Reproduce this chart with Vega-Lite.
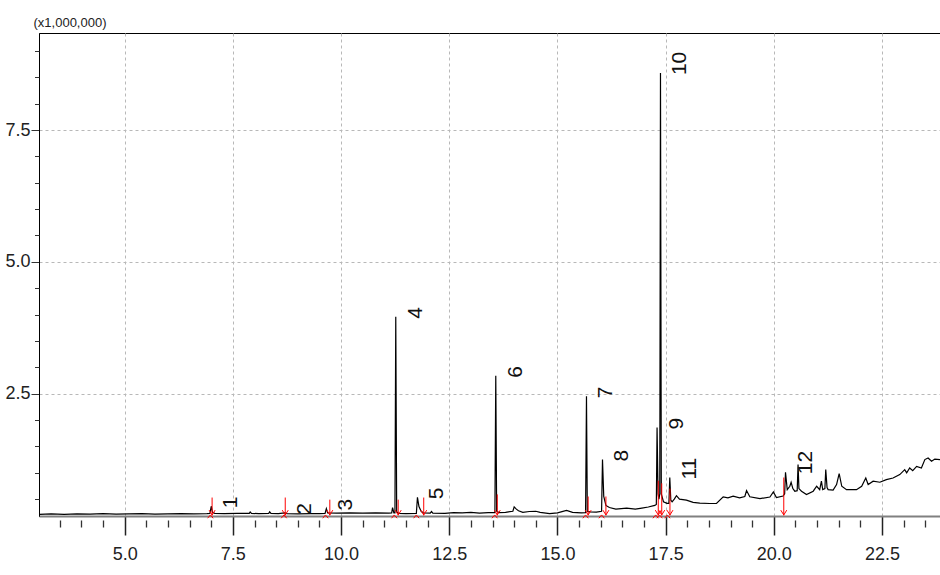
{
  "$schema": "https://vega.github.io/schema/vega-lite/v6.json",
  "width": 901,
  "height": 483,
  "autosize": "none",
  "padding": {"left": 39, "top": 33, "right": 0, "bottom": 59},
  "background": "white",
  "config": {
    "view": {"stroke": "black", "strokeWidth": 1},
    "font": "Liberation Sans, Arial"
  },
  "resolve": {"axis": {"x": "independent", "y": "independent"}},
  "datasets": {
    "trace": [
      {"t":3.03,"v":0.21},{"t":3.3,"v":0.22},{"t":3.6,"v":0.21},{"t":3.9,"v":0.22},{"t":4.2,"v":0.215},{"t":4.5,"v":0.225},{"t":4.8,"v":0.215},{"t":5.1,"v":0.22},{"t":5.4,"v":0.225},{"t":5.7,"v":0.215},{"t":6.0,"v":0.22},{"t":6.3,"v":0.225},{"t":6.6,"v":0.22},{"t":6.9,"v":0.225},{"t":6.97,"v":0.23},{"t":7.0,"v":0.365},{"t":7.03,"v":0.25},{"t":7.08,"v":0.23},{"t":7.3,"v":0.225},{"t":7.6,"v":0.23},{"t":7.88,"v":0.23},{"t":7.9,"v":0.255},{"t":7.93,"v":0.23},{"t":8.1,"v":0.225},{"t":8.33,"v":0.23},{"t":8.35,"v":0.26},{"t":8.38,"v":0.23},{"t":8.55,"v":0.225},{"t":8.7,"v":0.24},{"t":8.75,"v":0.225},{"t":9.0,"v":0.22},{"t":9.3,"v":0.225},{"t":9.5,"v":0.225},{"t":9.63,"v":0.23},{"t":9.66,"v":0.32},{"t":9.69,"v":0.24},{"t":9.9,"v":0.235},{"t":10.2,"v":0.24},{"t":10.5,"v":0.235},{"t":10.8,"v":0.24},{"t":11.1,"v":0.235},{"t":11.17,"v":0.24},{"t":11.19,"v":0.34},{"t":11.22,"v":0.24},{"t":11.245,"v":0.24},{"t":11.264,"v":3.96},{"t":11.285,"v":0.26},{"t":11.33,"v":0.23},{"t":11.5,"v":0.225},{"t":11.74,"v":0.23},{"t":11.765,"v":0.536},{"t":11.8,"v":0.36},{"t":11.85,"v":0.27},{"t":11.9,"v":0.24},{"t":12.06,"v":0.235},{"t":12.09,"v":0.265},{"t":12.12,"v":0.235},{"t":12.4,"v":0.23},{"t":12.6,"v":0.245},{"t":12.8,"v":0.24},{"t":13.0,"v":0.25},{"t":13.2,"v":0.235},{"t":13.4,"v":0.245},{"t":13.555,"v":0.245},{"t":13.575,"v":2.84},{"t":13.595,"v":0.27},{"t":13.65,"v":0.245},{"t":13.8,"v":0.25},{"t":13.97,"v":0.27},{"t":14.0,"v":0.354},{"t":14.05,"v":0.31},{"t":14.1,"v":0.28},{"t":14.2,"v":0.25},{"t":14.35,"v":0.265},{"t":14.5,"v":0.27},{"t":14.6,"v":0.25},{"t":14.82,"v":0.225},{"t":15.0,"v":0.24},{"t":15.21,"v":0.285},{"t":15.35,"v":0.25},{"t":15.55,"v":0.24},{"t":15.65,"v":0.245},{"t":15.671,"v":2.45},{"t":15.69,"v":0.27},{"t":15.75,"v":0.26},{"t":15.9,"v":0.255},{"t":16.02,"v":0.27},{"t":16.041,"v":1.25},{"t":16.07,"v":0.55},{"t":16.12,"v":0.38},{"t":16.2,"v":0.34},{"t":16.35,"v":0.31},{"t":16.6,"v":0.33},{"t":16.8,"v":0.31},{"t":16.95,"v":0.33},{"t":17.1,"v":0.35},{"t":17.25,"v":0.38},{"t":17.285,"v":0.4},{"t":17.302,"v":1.86},{"t":17.325,"v":0.6},{"t":17.345,"v":0.5},{"t":17.365,"v":0.6},{"t":17.381,"v":8.58},{"t":17.4,"v":0.6},{"t":17.45,"v":0.45},{"t":17.53,"v":0.42},{"t":17.575,"v":0.42},{"t":17.596,"v":0.91},{"t":17.62,"v":0.48},{"t":17.65,"v":0.45},{"t":17.7,"v":0.5},{"t":17.75,"v":0.565},{"t":17.82,"v":0.5},{"t":17.98,"v":0.48},{"t":18.135,"v":0.44},{"t":18.29,"v":0.426},{"t":18.52,"v":0.417},{"t":18.675,"v":0.417},{"t":18.83,"v":0.544},{"t":18.94,"v":0.525},{"t":19.06,"v":0.555},{"t":19.21,"v":0.525},{"t":19.33,"v":0.55},{"t":19.37,"v":0.663},{"t":19.445,"v":0.544},{"t":19.68,"v":0.51},{"t":19.91,"v":0.54},{"t":19.99,"v":0.635},{"t":20.06,"v":0.53},{"t":20.215,"v":0.56},{"t":20.25,"v":0.6},{"t":20.27,"v":1.01},{"t":20.31,"v":0.68},{"t":20.37,"v":0.744},{"t":20.4,"v":0.82},{"t":20.44,"v":0.7},{"t":20.485,"v":0.65},{"t":20.54,"v":0.66},{"t":20.56,"v":1.155},{"t":20.58,"v":0.7},{"t":20.64,"v":0.65},{"t":20.755,"v":0.587},{"t":20.91,"v":0.65},{"t":20.99,"v":0.744},{"t":21.06,"v":0.68},{"t":21.1,"v":0.84},{"t":21.13,"v":0.68},{"t":21.18,"v":0.7},{"t":21.2,"v":1.06},{"t":21.23,"v":0.72},{"t":21.255,"v":0.68},{"t":21.37,"v":0.67},{"t":21.45,"v":0.776},{"t":21.51,"v":0.985},{"t":21.57,"v":0.744},{"t":21.68,"v":0.68},{"t":21.91,"v":0.68},{"t":22.03,"v":0.744},{"t":22.125,"v":0.9},{"t":22.18,"v":0.776},{"t":22.295,"v":0.84},{"t":22.45,"v":0.82},{"t":22.6,"v":0.87},{"t":22.755,"v":0.9},{"t":22.91,"v":0.966},{"t":23.025,"v":1.06},{"t":23.07,"v":1.0},{"t":23.14,"v":1.09},{"t":23.21,"v":1.04},{"t":23.3,"v":1.12},{"t":23.41,"v":1.09},{"t":23.49,"v":1.25},{"t":23.565,"v":1.28},{"t":23.645,"v":1.22},{"t":23.72,"v":1.26},{"t":23.84,"v":1.25}
    ],
    "starts": [
      {"t":6.98},{"t":8.68},{"t":9.64},{"t":11.23},{"t":11.74},{"t":13.55},{"t":15.65},{"t":16.02},{"t":17.27},{"t":17.36},{"t":17.54}
    ],
    "ends": [
      {"t":7.02,"top":0.53},{"t":8.71,"top":0.53},{"t":9.74,"top":0.49},{"t":11.32,"top":0.49},{"t":11.91,"top":0.53},{"t":13.61,"top":0.59},{"t":15.71,"top":0.55},{"t":16.12,"top":0.55},{"t":17.33,"top":0.85},{"t":17.41,"top":0.8},{"t":17.6,"top":0.7},{"t":20.23,"top":0.91}
    ],
    "labels": [
      {"n":"1","t":7.0,"v":0.365},{"n":"2","t":8.7,"v":0.24},{"n":"3","t":9.66,"v":0.32},{"n":"4","t":11.264,"v":3.96},{"n":"5","t":11.765,"v":0.536},{"n":"6","t":13.575,"v":2.84},{"n":"7","t":15.671,"v":2.45},{"n":"8","t":16.041,"v":1.25},{"n":"9","t":17.302,"v":1.86},{"n":"10","t":17.381,"v":8.58},{"n":"11","t":17.596,"v":0.91},{"n":"12","t":20.27,"v":1.01}
    ]
  },
  "layer": [
    {
      "data": {"name": "trace"},
      "mark": {"type": "line", "color": "black", "strokeWidth": 1.2, "clip": true},
      "encoding": {
        "x": {
          "field": "t", "type": "quantitative",
          "scale": {"domain": [3.02, 23.84], "nice": false, "zero": false},
          "axis": {
            "orient": "bottom",
            "title": null,
            "tickCount": 200,
            "values": [5,7.5,10,12.5,15,17.5,20,22.5],
            "format": ".1f",
            "labelFontSize": 18,
            "labelColor": "#222222",
            "labelPadding": 10,
            "labelBaseline": "top",
            "labelFlush": false,
            "labelOverlap": false,
            "domainColor": "#808080",
            "domainWidth": 2,
            "ticks": true,
            "tickColor": "#222222",
            "tickWidth": 1.5,
            "tickSize": 19,
            "grid": false
          }
        },
        "y": {
          "field": "v", "type": "quantitative",
          "scale": {"domain": [0.18, 9.34], "nice": false, "zero": false},
          "axis": {
            "orient": "left",
            "title": "(x1,000,000)",
            "titleAngle": 0,
            "titleAlign": "left",
            "titleBaseline": "alphabetic",
            "titleX": -6,
            "titleY": -7,
            "titleFontSize": 13,
            "titleFontWeight": "normal",
            "titleColor": "#222222",
            "tickCount": 200,
            "values": [2.5,5,7.5],
            "format": ".1f",
            "labelFontSize": 18,
            "labelColor": "#222222",
            "labelPadding": 1,
            "labelFlush": false,
            "labelOverlap": false,
            "domainColor": "black",
            "domainWidth": 1,
            "tickColor": "#333333",
            "tickWidth": 1,
            "tickSize": 8,
            "grid": true,
            "gridColor": "#b8b8b8",
            "gridDash": [3, 3],
            "gridWidth": 1
          }
        }
      }
    },
    {
      "data": {"name": "ends"},
      "mark": {"type": "rule", "color": "#ff0000", "strokeWidth": 1},
      "encoding": {
        "x": {
          "field": "t", "type": "quantitative",
          "axis": {
            "orient": "bottom",
            "title": null,
            "tickCount": 200,
            "values": [3.5,4,4.5,5.5,6,6.5,7,8,8.5,9,9.5,10.5,11,11.5,12,13,13.5,14,14.5,15.5,16,16.5,17,18,18.5,19,19.5,20.5,21,21.5,22,23,23.5],
            "labels": false,
            "domain": false,
            "grid": false,
            "tickColor": "#333333",
            "tickWidth": 1.3,
            "tickSize": 11,
            "tickDash": [0, 4, 7, 40]
          }
        },
        "y": {
          "field": "top", "type": "quantitative",
          "axis": {
            "orient": "left",
            "title": null,
            "tickCount": 200,
            "values": [0.5,1,1.5,2,3,3.5,4,4.5,5.5,6,6.5,7,8,8.5,9],
            "labels": false,
            "domain": false,
            "grid": false,
            "tickColor": "#333333",
            "tickWidth": 1,
            "tickSize": 4.5
          }
        },
        "y2": {"datum": 0.19}
      }
    },
    {
      "data": {"name": "ends"},
      "mark": {"type": "point", "shape": "M-1,-1.6L0,0L1,-1.6", "filled": false, "stroke": "#ff0000", "strokeWidth": 1, "size": 36, "opacity": 1},
      "encoding": {
        "x": {"field": "t", "type": "quantitative", "axis": null},
        "y": {"datum": 0.2, "axis": null}
      }
    },
    {
      "data": {"name": "starts"},
      "mark": {"type": "point", "shape": "M-1,1.2L0,0L1,1.2", "filled": false, "stroke": "#ff0000", "strokeWidth": 1, "size": 30, "opacity": 1},
      "encoding": {
        "x": {
          "field": "t", "type": "quantitative",
          "axis": {
            "orient": "bottom",
            "title": null,
            "tickCount": 200,
            "values": [5,7.5,10,12.5,15,17.5,20,22.5],
            "labels": false,
            "domain": false,
            "ticks": false,
            "grid": true,
            "gridColor": "#b8b8b8",
            "gridDash": [3, 3],
            "gridWidth": 1
          }
        },
        "y": {"datum": 0.2, "axis": null}
      }
    },
    {
      "data": {"name": "labels"},
      "mark": {"type": "text", "angle": 270, "align": "left", "baseline": "alphabetic", "dx": -2, "dy": 26, "fontSize": 21, "color": "#111111"},
      "encoding": {
        "x": {"field": "t", "type": "quantitative", "axis": null},
        "y": {"field": "v", "type": "quantitative", "axis": null},
        "text": {"field": "n"}
      }
    }
  ]
}
